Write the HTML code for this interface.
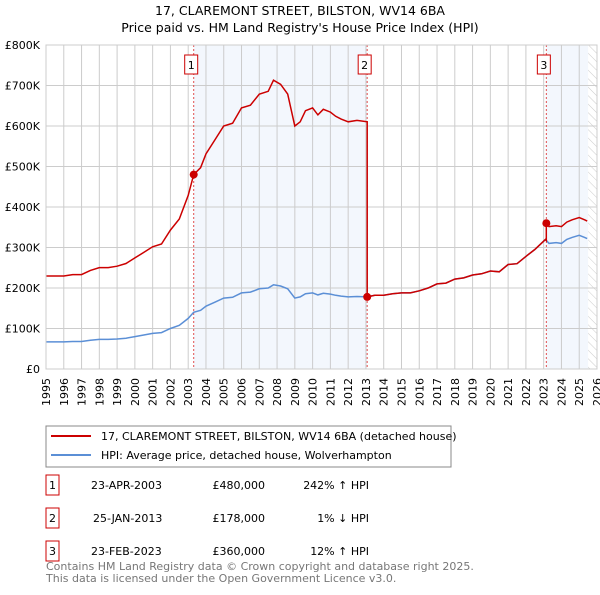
<!DOCTYPE html>
<html><head><meta charset="utf-8"><style>
body{margin:0;background:#fff;font-family:"Liberation Sans","DejaVu Sans",sans-serif;}
svg text{font-family:"DejaVu Sans","Liberation Sans",sans-serif;}
</style></head><body>
<svg id="c" width="600" height="590" xmlns="http://www.w3.org/2000/svg">
<defs><pattern id="hatch" width="6" height="6" patternUnits="userSpaceOnUse" patternTransform="rotate(-45)"><line x1="0" y1="0" x2="0" y2="6" stroke="#ccc" stroke-width="1"/></pattern></defs>
<text x="300" y="15" text-anchor="middle" font-size="12.5">17, CLAREMONT STREET, BILSTON, WV14 6BA</text>
<text x="300" y="32" text-anchor="middle" font-size="12.5">Price paid vs. HM Land Registry's House Price Index (HPI)</text>
<g id="plot"></g>
<rect x="46" y="426" width="405" height="41" fill="#fff" stroke="#888"/>
<line x1="51" y1="436" x2="91" y2="436" stroke="#cc0000" stroke-width="2"/>
<text x="101" y="440" font-size="11">17, CLAREMONT STREET, BILSTON, WV14 6BA (detached house)</text>
<line x1="51" y1="455" x2="91" y2="455" stroke="#5b8fd6" stroke-width="2"/>
<text x="101" y="459" font-size="11">HPI: Average price, detached house, Wolverhampton</text>
<g font-size="11">
<rect x="46" y="475" width="13" height="20" fill="#fff" stroke="#cc0000"/><text x="52.5" y="489" text-anchor="middle">1</text>
<text x="91" y="489">23-APR-2003</text><text x="265" y="489" text-anchor="end">£480,000</text><text x="369" y="489" text-anchor="end">242% ↑ HPI</text>
<rect x="46" y="508" width="13" height="20" fill="#fff" stroke="#cc0000"/><text x="52.5" y="522" text-anchor="middle">2</text>
<text x="93" y="522">25-JAN-2013</text><text x="265" y="522" text-anchor="end">£178,000</text><text x="369" y="522" text-anchor="end">1% ↓ HPI</text>
<rect x="46" y="541" width="13" height="20" fill="#fff" stroke="#cc0000"/><text x="52.5" y="555" text-anchor="middle">3</text>
<text x="91" y="555">23-FEB-2023</text><text x="265" y="555" text-anchor="end">£360,000</text><text x="369" y="555" text-anchor="end">12% ↑ HPI</text>
</g>
<text x="46" y="570" font-size="11" fill="#777">Contains HM Land Registry data © Crown copyright and database right 2025.</text>
<text x="46" y="582" font-size="11" fill="#777">This data is licensed under the Open Government Licence v3.0.</text>
</svg>
<script>
const hpiYears=[1995,1995.5,1996,1996.5,1997,1997.5,1998,1998.5,1999,1999.5,2000,2000.5,2001,2001.5,2002,2002.5,2003,2003.31,2003.7,2004,2004.5,2005,2005.5,2006,2006.5,2007,2007.5,2007.8,2008.2,2008.6,2009,2009.3,2009.6,2010,2010.3,2010.6,2011,2011.3,2011.6,2012,2012.5,2013.07,2013.5,2014,2014.5,2015,2015.5,2016,2016.5,2017,2017.5,2018,2018.5,2019,2019.5,2020,2020.5,2021,2021.5,2022,2022.5,2023.1,2023.3,2023.7,2024,2024.3,2024.6,2025,2025.3,2025.45];
const hpiValues=[67,67,67,68,68,71,73,73,74,76,80,84,88,90,100,108,125,140,145,155,165,175,177,188,190,198,200,208,205,198,175,178,186,188,183,187,185,182,180,178,179,178,182,182,186,188,188,193,200,210,212,222,225,232,235,242,240,258,260,278,295,320,310,312,310,320,325,330,325,322];
const saleYears=[2003.31,2013.07,2023.15];
const salePrices=[480,178,360];
const saleLabels=["1","2","3"];
const yTicks=[0,100,200,300,400,500,600,700,800];
const yTickLabels=["£0","£100K","£200K","£300K","£400K","£500K","£600K","£700K","£800K"];
const xTicks=[];for(let y=1995;y<=2026;y++)xTicks.push(y);
const X0=46,X1=597,Y0=369,Y1=45,YR0=1995,YR1=2026,VMAX=800;
const sx=y=>X0+(y-YR0)/(YR1-YR0)*(X1-X0);
const sy=v=>Y0-v/VMAX*(Y0-Y1);
const NS="http://www.w3.org/2000/svg";
const g=document.getElementById('plot');
function mk(t,a,p){const e=document.createElementNS(NS,t);for(const k in a)e.setAttribute(k,a[k]);(p||g).appendChild(e);return e;}
function hpiAt(y){for(let i=1;i<hpiYears.length;i++){if(y<=hpiYears[i]){const t=(y-hpiYears[i-1])/(hpiYears[i]-hpiYears[i-1]);return hpiValues[i-1]+t*(hpiValues[i]-hpiValues[i-1]);}}return hpiValues[hpiValues.length-1];}
// shading
let r=mk('rect',{x:sx(saleYears[0]),y:Y1,width:sx(saleYears[1])-sx(saleYears[0]),height:Y0-Y1,fill:'#eef3fc',opacity:0.7});


r=mk('rect',{x:sx(saleYears[2]),y:Y1,width:sx(2025.5)-sx(saleYears[2]),height:Y0-Y1,fill:'#eef3fc',opacity:0.7});


r=mk('rect',{x:sx(2025.5),y:Y1,width:X1-sx(2025.5),height:Y0-Y1,fill:'url(#hatch)'});


// grid
xTicks.forEach(y=>{mk('line',{x1:sx(y),x2:sx(y),y1:Y1,y2:Y0,stroke:'#ccc','stroke-width':1});
 const t=mk('text',{x:0,y:0,'font-size':11,transform:`translate(${sx(y)+4},${Y0+23}) rotate(-90)`,'text-anchor':'middle'});t.textContent=y;
 
 });
yTicks.forEach((v,i)=>{mk('line',{x1:X0,x2:X1,y1:sy(v),y2:sy(v),stroke:'#ccc','stroke-width':1});
 const t=mk('text',{x:X0-6,y:sy(v)+4,'font-size':11,'text-anchor':'end'});t.textContent=yTickLabels[i];
 
 });
// sale vlines
saleYears.forEach((s,i)=>{mk('line',{x1:sx(s),x2:sx(s),y1:Y1,y2:Y0,stroke:'#e05050','stroke-width':1,'stroke-dasharray':'2,2'});
 const b=mk('rect',{x:sx(s)-9,y:55,width:13,height:19,fill:'#fff',stroke:'#cc0000'});
 
 
 const t=mk('text',{x:sx(s)-2.5,y:69,'font-size':11,'text-anchor':'middle'});t.textContent=saleLabels[i];});
// hpi line
let d=hpiYears.map((y,i)=>(i?'L':'M')+sx(y).toFixed(1)+','+sy(hpiValues[i]).toFixed(1)).join('');
let p=mk('path',{d:d,fill:'none',stroke:'#5b8fd6','stroke-width':1.5});


// red line
const factors=saleYears.map((s,i)=>salePrices[i]/hpiAt(s));
let pts=[];
hpiYears.forEach((y,i)=>{let k=0;for(let j=0;j<saleYears.length;j++)if(y>=saleYears[j])k=j;
 saleYears.forEach((s,j)=>{if(j>0&&s>hpiYears[i-1]&&s<=y&&i>0){pts.push([s,hpiAt(s)*factors[j-1]]);pts.push([s,salePrices[j]]);}});
 pts.push([y,hpiValues[i]*factors[k]]);});
d=pts.map((q,i)=>(i?'L':'M')+sx(q[0]).toFixed(1)+','+sy(q[1]).toFixed(1)).join('');
p=mk('path',{d:d,fill:'none',stroke:'#cc0000','stroke-width':1.5});


saleYears.forEach((s,i)=>{const c=mk('circle',{cx:sx(s),cy:sy(salePrices[i]),r:4,fill:'#cc0000'});
 
 });
mk('rect',{x:X0,y:Y1,width:X1-X0,height:Y0-Y1,fill:'none',stroke:'#ccc'});
</script>
</body></html>
